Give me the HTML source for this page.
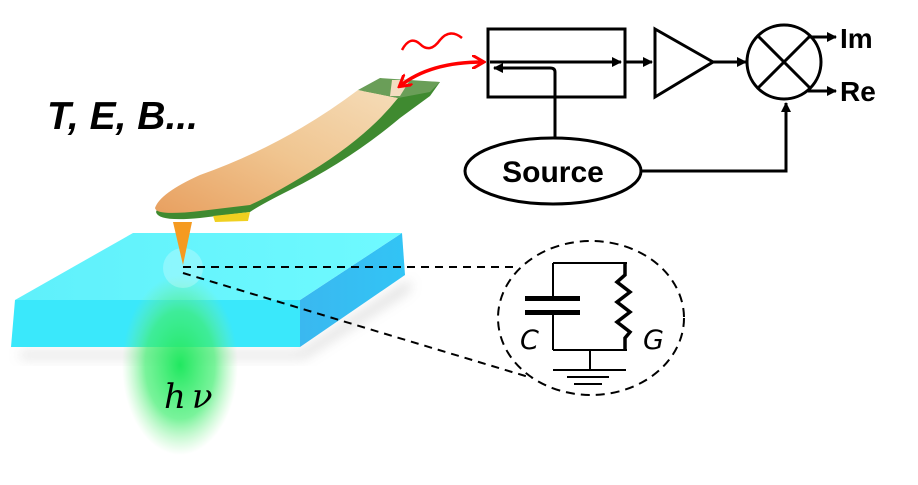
<!DOCTYPE html>
<html><head><meta charset="utf-8"><style>
html,body{margin:0;padding:0;background:#fff;width:918px;height:485px;overflow:hidden}
</style></head><body>
<svg width="918" height="485" viewBox="0 0 918 485" xmlns="http://www.w3.org/2000/svg">
<defs>
<marker id="ah" markerWidth="10" markerHeight="10" refX="9" refY="5" orient="auto" markerUnits="userSpaceOnUse"><path d="M0,0 L10,5 L0,10 z" fill="#000"/></marker>
<marker id="rah" markerWidth="14" markerHeight="14" refX="11" refY="7" orient="auto-start-reverse" markerUnits="userSpaceOnUse"><path d="M0,0 L12,7 L0,14" fill="none" stroke="#f00" stroke-width="3"/></marker>
<linearGradient id="top" x1="0" x2="1"><stop offset="0" stop-color="#5ff0fb"/><stop offset="1" stop-color="#6ffaff"/></linearGradient>
<linearGradient id="side" x1="0" x2="1"><stop offset="0" stop-color="#3ab8f0"/><stop offset="1" stop-color="#32c4f5"/></linearGradient>
<linearGradient id="cant" x1="0" y1="1" x2="1" y2="0"><stop offset="0" stop-color="#e8a060"/><stop offset="0.5" stop-color="#f0c590"/><stop offset="1" stop-color="#f5dcb8"/></linearGradient>
<radialGradient id="glow" cx="0.5" cy="0.5" r="0.5"><stop offset="0" stop-color="#20e860" stop-opacity="1"/><stop offset="0.6" stop-color="#40ee70" stop-opacity="0.7"/><stop offset="1" stop-color="#80f090" stop-opacity="0"/></radialGradient>
<filter id="bl"><feGaussianBlur stdDeviation="6"/></filter>
</defs>
<polygon points="20,352 300,352 410,280 410,290 304,358 20,358" fill="#999" opacity="0.35" filter="url(#bl)"/>
<polygon points="15,300 300,300 300,347 11,347" fill="#3ae8fb"/>
<polygon points="300,300 402,233 405,275 300,347" fill="url(#side)"/>
<polygon points="15,300 133,233 402,233 300,300" fill="url(#top)"/>
<ellipse cx="180" cy="365" rx="58" ry="90" fill="url(#glow)"/>
<circle cx="183" cy="268" r="20" fill="#fff" opacity="0.25"/>
<!-- cantilever -->
<path d="M156,212 Q160,198 200,180 Q290,150 360,92 L385,80 L440,82 L430,96 L400,118 Q350,160 290,190 Q260,205 250,212 L200,218 Q158,222 156,212 Z" fill="#3f8a30"/>
<path d="M155,208 Q160,193 200,175 Q285,145 358,90 L398,98 Q365,140 300,178 Q270,196 250,205 L200,211 Q156,216 155,208 Z" fill="url(#cant)"/>
<path d="M380,78 L440,82 L430,92 L398,98 L358,90 Z" fill="#6a9e58"/>
<path d="M392,80 L410,80 L400,96 L390,96 Z" fill="#f3dcc0"/>
<polygon points="213,216 250,212 248,221 215,222" fill="#f0d020"/>
<polygon points="173,222 192,222 183,265" fill="#f59a20"/>
<text x="47" y="129" font-family="Liberation Sans, sans-serif" font-weight="bold" font-style="italic" font-size="39" fill="#000">T, E, B...</text>
<text x="164" y="408" font-family="DejaVu Serif, Liberation Serif, serif" font-style="italic" font-size="34" fill="#000">h<tspan dx="6">ν</tspan></text>
<line x1="183" y1="267" x2="515" y2="267" stroke="#000" stroke-width="2" stroke-dasharray="8,6"/>
<line x1="183" y1="273" x2="532" y2="378" stroke="#000" stroke-width="2" stroke-dasharray="8,6"/>
<ellipse cx="591" cy="318" rx="93" ry="77" fill="#fff" stroke="#000" stroke-width="2" stroke-dasharray="9,6"/>
<g stroke="#000" stroke-width="2" fill="none">
<line x1="553" y1="263" x2="627" y2="263"/>
<line x1="553" y1="350" x2="627" y2="350"/>
<line x1="553" y1="263" x2="553" y2="298"/>
<line x1="553" y1="313" x2="553" y2="350"/>
<line x1="590" y1="350" x2="590" y2="370"/>
<line x1="553" y1="370" x2="626" y2="370"/>
<line x1="567" y1="377" x2="609" y2="377"/>
<line x1="574" y1="384" x2="602" y2="384"/>
<polyline stroke-width="3.5" points="625,263 625,275 617,282 630,292 617,302 630,312 617,322 630,332 625,338 625,350"/>
</g>
<rect x="525" y="296" width="55" height="5" fill="#000"/>
<rect x="525" y="310" width="55" height="5" fill="#000"/>
<text x="520" y="349" font-family="DejaVu Sans, sans-serif" font-style="italic" font-size="27">C</text>
<text x="643" y="349" font-family="DejaVu Sans, sans-serif" font-style="italic" font-size="27">G</text>
<g stroke="#000" stroke-width="3" fill="none">
<rect x="488" y="29" width="137" height="68"/>
<line x1="490" y1="62" x2="621" y2="62" marker-end="url(#ah)"/>
<path d="M555,137 L555,72 Q555,68 550,68 L494,68" marker-end="url(#ah)"/>
<line x1="625" y1="62" x2="652" y2="62" marker-end="url(#ah)"/>
<polygon points="655,29 713,62 655,97"/>
<line x1="713" y1="62" x2="746" y2="62" marker-end="url(#ah)"/>
<circle cx="784" cy="62" r="37"/>
<line x1="758" y1="36" x2="810" y2="88"/>
<line x1="810" y1="36" x2="758" y2="88"/>
<line x1="808" y1="37" x2="836" y2="37" marker-end="url(#ah)"/>
<line x1="808" y1="91" x2="836" y2="91" marker-end="url(#ah)"/>
<ellipse cx="553" cy="171" rx="88" ry="33"/>
<path d="M641,171 L786,171 L786,103" marker-end="url(#ah)"/>
</g>
<text x="840" y="48" font-family="Liberation Sans, sans-serif" font-weight="bold" font-size="28">Im</text>
<text x="840" y="101" font-family="Liberation Sans, sans-serif" font-weight="bold" font-size="28">Re</text>
<text x="553" y="182" text-anchor="middle" font-family="Liberation Sans, sans-serif" font-weight="bold" font-size="30">Source</text>
<path d="M402,50 Q410,35 420,44 Q430,54 440,40 Q450,28 462,38" stroke="#f00" stroke-width="2.5" fill="none"/>
<path d="M400,86 Q430,62 483,62" stroke="#f00" stroke-width="3.5" fill="none" marker-end="url(#rah)" marker-start="url(#rah)"/>
</svg>
</body></html>
